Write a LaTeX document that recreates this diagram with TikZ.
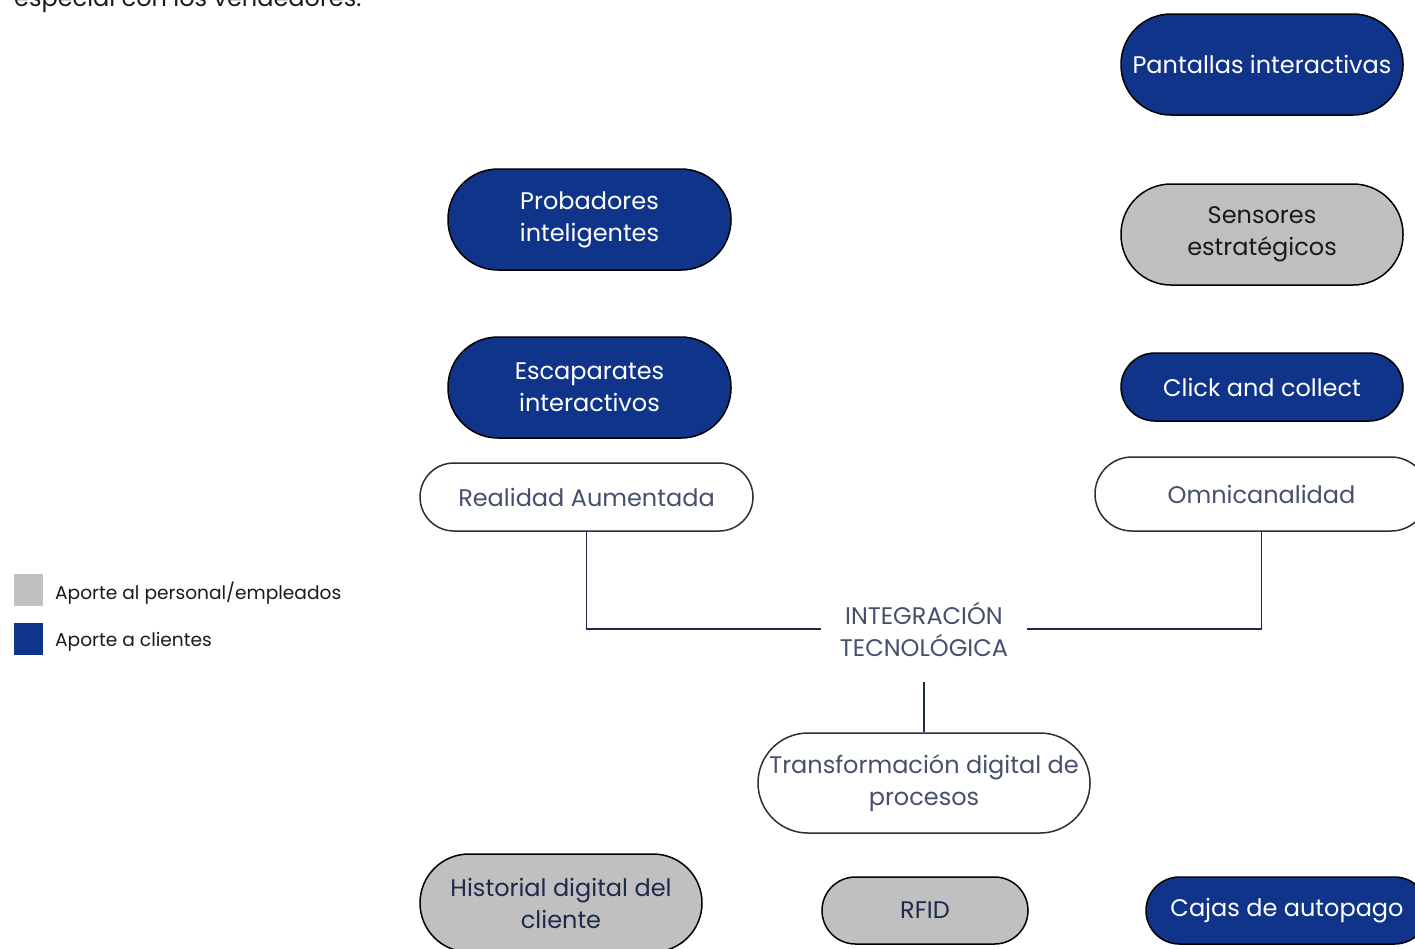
\documentclass[tikz,border=0pt]{standalone}
\usepackage{fontspec}
\setmainfont{Poppins}
\definecolor{cblue}{HTML}{0F3489}
\definecolor{cgray}{HTML}{C0C0C0}
\definecolor{ctext}{HTML}{46506C}
\definecolor{cdark}{HTML}{1E2A4C}
\definecolor{cline}{HTML}{1E2A4A}
\definecolor{cborder}{HTML}{2E2E2E}
\definecolor{cblack}{HTML}{1A1A1A}
\begin{document}
\begin{tikzpicture}[x=1pt,y=-1pt,
  pill/.style={draw=black, line width=1.5pt, inner sep=0pt, align=center, font=\fontsize{24}{32}\selectfont},
  pblue/.style={pill, fill=cblue, text=white},
  pgray/.style={pill, fill=cgray, text=cdark},
  pwhite/.style={pill, fill=white, text=ctext, draw=cborder},
  conn/.style={draw=cline, line width=1.3pt},
  legtext/.style={anchor=west, inner sep=0pt, text=cblack, font=\fontsize{18.6}{20}\selectfont},
  legbox/.style={inner sep=0pt, minimum width=29pt, minimum height=32pt}]
\useasboundingbox (0,0) rectangle (1415,948);
\fill[white] (0,0) rectangle (1415,948);

\node[anchor=base west, inner sep=0pt, text=cblack, font=\fontsize{24}{28}\selectfont] (top) at (14,6) {especial con los vendedores.};

\node[pblue, minimum width=282pt, minimum height=101pt, rounded corners=50pt] (pant) at (1262,64.5) {Pantallas interactivas};
\node[pblue, minimum width=283pt, minimum height=101pt, rounded corners=50pt] (prob) at (589.5,219.5) {Probadores\\inteligentes};
\node[pgray, text=cblack, minimum width=282pt, minimum height=101pt, rounded corners=50pt] (sens) at (1262,234.5) {Sensores\\estratégicos};
\node[pblue, minimum width=283pt, minimum height=101pt, rounded corners=50pt] (esca) at (589.5,387.5) {Escaparates\\interactivos};
\node[pblue, minimum width=282pt, minimum height=68pt, rounded corners=34pt] (click) at (1262,387) {Click and collect};
\node[pwhite, minimum width=333pt, minimum height=68pt, rounded corners=34pt] (real) at (586.5,497) {Realidad Aumentada};
\node[pwhite, minimum width=333pt, minimum height=74pt, rounded corners=37pt] (omni) at (1261.5,494) {Omnicanalidad};
\node[pwhite, minimum width=332pt, minimum height=100pt, rounded corners=50pt] (trans) at (924,783) {Transformación digital de\\procesos};
\node[pgray, minimum width=282pt, minimum height=98pt, rounded corners=49pt] (hist) at (561,903) {Historial digital del\\cliente};
\node[pgray, minimum width=206pt, minimum height=67pt, rounded corners=33.5pt] (rfid) at (925,910.5) {RFID};
\node[pblue, minimum width=282pt, minimum height=67pt, rounded corners=33.5pt] (cajas) at (1287,910.5) {Cajas de autopago};

\node[inner sep=0pt, minimum width=206pt, minimum height=106pt, align=center, text=ctext, font=\fontsize{24}{32}\selectfont] (integ) at (924,629) {INTEGRACIÓN\\TECNOLÓGICA};

\draw[conn] (real.south) |- (integ.west);
\draw[conn] (omni.south) |- (integ.east);
\draw[conn] (integ.south) -- (trans.north);

\node[legbox, fill=cgray] (lg1) at (28.5,590) {};
\node[legbox, fill=cblue] (lg2) at (28.5,638.5) {};
\node[legtext] (lt1) at (55,593) {Aporte al personal/empleados};
\node[legtext] (lt2) at (55,642) {Aporte a clientes};
\end{tikzpicture}
\end{document}
